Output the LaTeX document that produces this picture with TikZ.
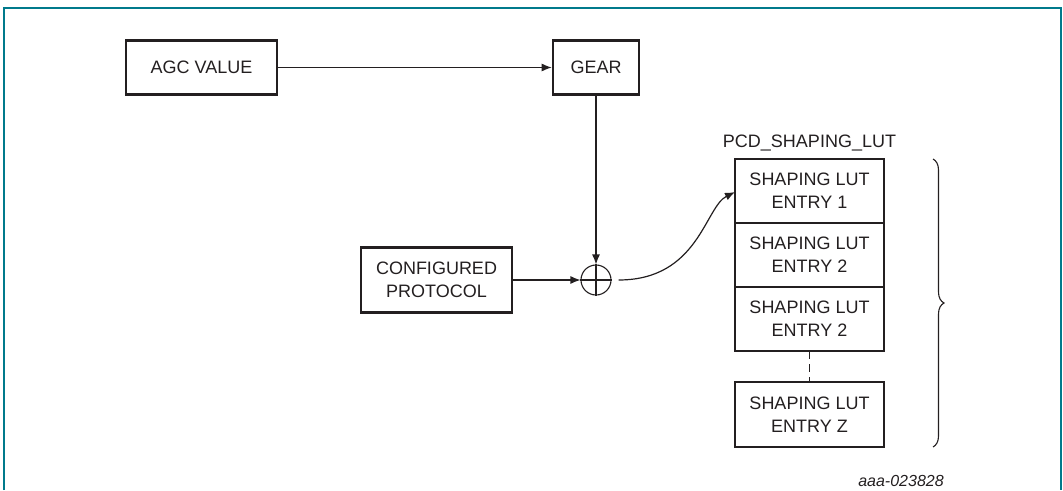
\documentclass[tikz,border=0pt]{standalone}
\usepackage{fontspec}
\setmainfont{Liberation Sans}
\usepackage{tikz}
\usetikzlibrary{arrows.meta,calc,positioning,decorations.pathreplacing}
\definecolor{rahmen}{RGB}{0,122,140}
\definecolor{schrift}{RGB}{35,31,32}

\begin{document}
\begin{tikzpicture}[x=1pt,y=-1pt,
  kasten/.style={draw=schrift,line width=2.6pt,minimum height=54pt,inner sep=0pt,
    align=center,text=schrift,font=\fontsize{18}{23}\selectfont},
  lut/.style={kasten,minimum width=149pt,minimum height=64pt,outer sep=0pt},
  pfeil/.style={draw=schrift,line width=1.2pt,-{Latex[length=10pt,width=8pt]}},
  klammer/.style={draw=schrift,line width=1.1pt,decorate,decoration={brace,amplitude=11pt}}]
%Bildgroesse wie die Vorlage (1 Pixel = 1pt)
\useasboundingbox (0,0) rectangle (1063,490);
\draw[rahmen,line width=1.5pt] (4,490) -- (4,8) -- (1061,8) -- (1061,490);

\node[kasten,minimum width=151pt] (agc) at (201.5,67.5) {AGC VALUE};
\node[kasten,minimum width=86pt] (gear) at (596,67.5) {GEAR};
\node[kasten,minimum width=151pt,minimum height=65pt] (config) at (436.5,280) {CONFIGURED\\PROTOCOL};
\node[draw=schrift,line width=1.1pt,circle,minimum size=30pt,inner sep=0pt] (sum) at (596,280) {};
\draw[schrift,line width=1.1pt] (sum.north) -- (sum.south) (sum.west) -- (sum.east);

%Tabelle: drei Eintraege untereinander, dann Luecke und Eintrag Z
\foreach \i/\nr in {1/1,2/2,3/2}{
  \node[lut] (lut\i) at (809.5,{127+64*\i}) {SHAPING LUT\\ENTRY \nr};
}
\node[lut,minimum height=65pt] (lutz) at (809.5,414.5) {SHAPING LUT\\ENTRY Z};
\draw[schrift,line width=1.2pt,dash pattern=on 8pt off 5pt] (lut3) -- (lutz);
\node[text=schrift,font=\fontsize{18}{23}\selectfont,inner sep=0pt,above=8pt of lut1] (titel) {PCD\_SHAPING\_LUT};
\draw[klammer] ($(lut1.north east)+(49,0)$) -- ($(lutz.south east)+(49,0)$);

\draw[pfeil] (agc) -- (gear);
\draw[pfeil] (gear) -- (sum);
\draw[pfeil] (config) -- (sum);
\draw[pfeil] ([xshift=7pt]sum.east) .. controls +(80,0) and +(-30,15) .. ([yshift=-1pt]lut1.west);

\node[text=schrift,font=\fontsize{16}{19}\selectfont\itshape,inner sep=0pt] (nummer) at (901,481) {aaa-023828};
\end{tikzpicture}
\end{document}
